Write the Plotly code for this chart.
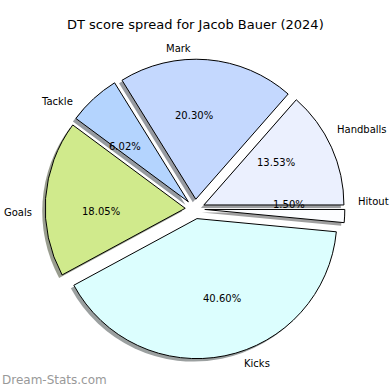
import math
import plotly.graph_objects as go

# ---- data ----
labels = ["Hitout", "Handballs", "Mark", "Tackle", "Goals", "Kicks"]
values = [2, 18, 27, 8, 24, 54]          # DT points per stat (total 133)
colors = ["#fcfdff", "#ebf0fe", "#c4d8fe", "#b4d4fe", "#d0ea8c", "#dcfefe"]
pulls = [0.07, 0.07, 0.07, 0.07, 0.07, 0.07]
title_text = "DT score spread for Jacob Bauer (2024)"
watermark = "Dream-Stats.com"

# ---- geometry ----
W = H = 390
cx, cy = 195, 209      # pie centre in pixels (screen coords)
R = 140                # pie radius in pixels
S = 2 * R * (1 + max(pulls))   # plotly shrinks the radius to fit the pull
shadow_dx, shadow_dy = -3, 3
LABEL_DIST, PCT_DIST = 1.08, 0.6
FONT = "DejaVu Sans"


def domain(x0, y0):
    return dict(x=[(x0 - S / 2) / W, (x0 + S / 2) / W],
                y=[1 - (y0 + S / 2) / H, 1 - (y0 - S / 2) / H])


def shade(hexcol):
    h = hexcol.lstrip("#")
    r, g, b = (int(h[i:i + 2], 16) for i in (0, 2, 4))
    f = lambda c: int(round(0.15 * c + 122))
    return "rgb(%d,%d,%d)" % (f(r), f(g), f(b))


fig = go.Figure()
# shadow
fig.add_trace(go.Pie(
    labels=labels, values=values, sort=False, direction="counterclockwise",
    rotation=90, pull=pulls, textinfo="none", hoverinfo="skip",
    marker=dict(colors=[shade(c) for c in colors], line=dict(width=0)),
    domain=domain(cx + shadow_dx, cy + shadow_dy), showlegend=False))
# main pie
fig.add_trace(go.Pie(
    labels=labels, values=values, sort=False, direction="counterclockwise",
    rotation=90, pull=pulls, textinfo="none",
    marker=dict(colors=colors, line=dict(color="black", width=1)),
    domain=domain(cx, cy), showlegend=False))

# labels and percentages, placed along each slice's bisector
total = sum(values)
annotations = []
cum = 0.0
for lab, v, p in zip(labels, values, pulls):
    mid = (cum + v / 2) / total * 2 * math.pi
    cum += v
    ux, uy = math.cos(mid), -math.sin(mid)
    ox, oy = cx + p * R * ux, cy + p * R * uy
    # percentage
    px, py = ox + PCT_DIST * R * ux, oy + PCT_DIST * R * uy
    annotations.append(dict(x=px / W, y=1 - py / H, xref="paper", yref="paper",
                            text="%.2f%%" % (100 * v / total), showarrow=False,
                            xanchor="center", yanchor="middle",
                            font=dict(family=FONT, size=10, color="black")))
    # label
    lx, ly = ox + LABEL_DIST * R * ux, oy + LABEL_DIST * R * uy
    annotations.append(dict(x=lx / W, y=1 - ly / H, xref="paper", yref="paper",
                            text=lab, showarrow=False,
                            xanchor="left" if ux > 0 else "right", yanchor="middle",
                            font=dict(family=FONT, size=10, color="black")))

annotations.append(dict(x=195 / W, y=1 - 25 / H, xref="paper", yref="paper",
                        text=title_text, showarrow=False, xanchor="center",
                        yanchor="middle",
                        font=dict(family=FONT, size=13, color="black")))
annotations.append(dict(x=0, y=1 - 380 / H, xref="paper", yref="paper",
                        text=watermark, showarrow=False,
                        xanchor="left", yanchor="middle",
                        font=dict(family=FONT, size=12, color="#999999")))

fig.update_layout(width=W, height=H, margin=dict(l=0, r=0, t=0, b=0),
                  paper_bgcolor="white", plot_bgcolor="white",
                  annotations=annotations)
fig.write_html("out.html", config={"displayModeBar": False},
               post_script="document.body.style.margin='0';"
                           "document.body.style.overflow='hidden';")
